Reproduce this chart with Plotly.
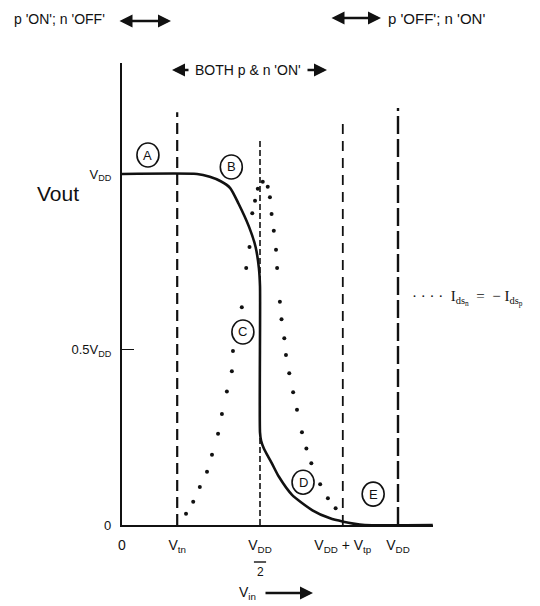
import plotly.graph_objects as go

# Supply and threshold voltages (V)
VDD = 5.0
VTN = 1.0
VTP = -1.0

# CMOS inverter transfer curve: input voltage vs output voltage
vin_curve = [0.0, 1.36, 1.59, 1.78, 1.96, 2.11, 2.30, 2.42, 2.48, 2.50, 2.50,
             2.52, 2.57, 2.65, 2.72, 2.84, 3.08, 3.45, 3.77, 4.01, 4.19, 4.40, 5.63]
vout_curve = [5.0, 5.0, 4.96, 4.90, 4.80, 4.58, 4.25, 3.96, 3.66, 3.40, 1.32,
              1.20, 1.09, 0.97, 0.87, 0.69, 0.43, 0.21, 0.095, 0.047, 0.02, 0.0, 0.0]

# Drain current Ids_n = -Ids_p (scaled onto the output axis)
vin_dots = [1.16, 1.29, 1.41, 1.54, 1.63, 1.74, 1.81, 1.90, 1.99, 2.01, 2.17,
            2.25, 2.31, 2.36, 2.41, 2.46, 2.55, 2.64, 2.68, 2.71, 2.75, 2.79,
            2.81, 2.86, 2.89, 2.94, 2.97, 3.03, 3.10, 3.17, 3.26, 3.34, 3.43,
            3.59, 3.73, 3.87]
ids_dots = [0.16, 0.33, 0.54, 0.76, 1.00, 1.30, 1.58, 1.90, 2.19, 2.48, 3.10,
            3.66, 3.96, 4.44, 4.62, 4.79, 4.89, 4.82, 4.67, 4.43, 4.19, 3.92,
            3.66, 3.18, 2.93, 2.66, 2.42, 2.16, 1.89, 1.64, 1.32, 1.09, 0.88,
            0.58, 0.38, 0.24]

# Axis ticks
x_tick_vals = [0.0, VTN, VDD / 2, VDD + VTP, VDD]
x_tick_text = ["0", "V<sub>tn</sub>", "V<sub>DD</sub>",
               "V<sub>DD</sub> + V<sub>tp</sub>", "V<sub>DD</sub>"]
y_tick_vals = [0.0, 0.5 * VDD, VDD]
y_tick_text = ["0", "0.5V<sub>DD</sub>", "V<sub>DD</sub>"]

# Operating regions
region_labels = ["A", "B", "C", "D", "E"]
region_x = [0.47, 1.98, 2.19, 3.28, 4.55]
region_y = [5.27, 5.10, 2.75, 0.61, 0.44]

X_MAX = 5.634
Y_MAX = 6.581

L, R, T, B = 122, 433, 63, 525
FONT = "Liberation Sans, Arial, sans-serif"
SERIF = "Liberation Serif, Times New Roman, serif"
INK = "#111111"


def px(p):
    return (p - L) / (R - L)


def py(p):
    return (B - p) / (B - T)


fig = go.Figure()

fig.add_trace(go.Scatter(
    x=vin_curve, y=vout_curve, mode="lines",
    line=dict(color=INK, width=2.6, shape="spline", smoothing=0.6),
    hoverinfo="skip", showlegend=False,
))
fig.add_trace(go.Scatter(
    x=vin_dots, y=ids_dots, mode="markers",
    marker=dict(color=INK, size=4),
    hoverinfo="skip", showlegend=False,
))

# Dashed guide lines at the tick voltages
guide_tops = [5.88, 5.48, 5.80, 5.94]
guide_dash = ["11px,6px", "6px,3px", "10px,7px", "18px,5px"]
guide_w = [2.2, 1.6, 1.8, 2.4]
for xv, top, d, w in zip(x_tick_vals[1:], guide_tops, guide_dash, guide_w):
    fig.add_shape(type="line", xref="x", yref="y", x0=xv, x1=xv, y0=0, y1=top,
                  line=dict(color=INK, width=w, dash=d), layer="above")

# Circled region letters
for lab, xv, yv in zip(region_labels, region_x, region_y):
    fig.add_shape(type="circle", xref="x", yref="y",
                  xsizemode="pixel", ysizemode="pixel",
                  xanchor=xv, yanchor=yv, x0=-11, x1=11, y0=-12, y1=12,
                  line=dict(color=INK, width=1.6), fillcolor="white")
    fig.add_annotation(x=xv, y=yv, xref="x", yref="y", text=lab,
                       showarrow=False, font=dict(family=FONT, size=13, color=INK))


def text(xp, yp, s, size=13, anchor="center", family=FONT):
    fig.add_annotation(x=px(xp), y=py(yp), xref="paper", yref="paper", text=s,
                       showarrow=False, xanchor=anchor, yanchor="middle",
                       font=dict(family=family, size=size, color=INK))


def arrow(x_head, y_head, x_tail, both=False):
    fig.add_annotation(x=px(x_head), y=py(y_head), xref="paper", yref="paper",
                       ax=x_tail - x_head, ay=0, text="", showarrow=True,
                       arrowhead=2, arrowsize=1.0, arrowwidth=2.6, arrowcolor=INK,
                       arrowside="end+start" if both else "end",
                       startarrowhead=2, startarrowsize=1.0)


text(12, 19, "p 'ON'; n 'OFF'", size=14, anchor="left")
arrow(171, 21, 118, both=True)
arrow(381, 18, 330, both=True)
text(386, 18, "p 'OFF'; n 'ON'", size=15, anchor="left")
text(193, 70, "BOTH p &amp; n 'ON'", size=14, anchor="left")
arrow(172, 70, 190)
arrow(327, 70, 306)

text(58, 193, "Vout", size=21)

# Key for the dotted current curve
text(410, 298, "· · · ·  I<sub>ds<sub>n</sub></sub>  =  − I<sub>ds<sub>p</sub></sub>",
     size=15, anchor="left", family=SERIF)

# V_DD/2 fraction bar and denominator
fig.add_annotation(x=VDD / 2, y=py(572), xref="x", yref="paper", text="2",
                   showarrow=False, yanchor="middle",
                   font=dict(family=FONT, size=12, color=INK))
fig.add_shape(type="line", xref="x", yref="paper", x0=2.39, x1=2.61,
              y0=py(562), y1=py(562), line=dict(color=INK, width=1.4))

text(247, 593, "V<sub>in</sub>", size=14)
arrow(313, 593, 264)

fig.update_layout(
    width=540, height=606,
    margin=dict(l=L, r=540 - R, t=T, b=606 - B),
    paper_bgcolor="white", plot_bgcolor="white",
    font=dict(family=FONT, color=INK),
    xaxis=dict(range=[0, X_MAX], showgrid=False, zeroline=False,
               showline=True, linecolor=INK, linewidth=2, mirror=False,
               tickvals=x_tick_vals, ticktext=x_tick_text, ticks="",
               ticklabelstandoff=6, tickfont=dict(size=14, color=INK)),
    yaxis=dict(range=[0, Y_MAX], showgrid=False, zeroline=False,
               showline=True, linecolor=INK, linewidth=2.2, mirror=False,
               tickvals=y_tick_vals, ticktext=y_tick_text, ticks="inside",
               ticklen=12, tickwidth=1.4, tickcolor=INK,
               ticklabelstandoff=6, tickfont=dict(size=13, color=INK)),
)

fig.write_html("out.html")
